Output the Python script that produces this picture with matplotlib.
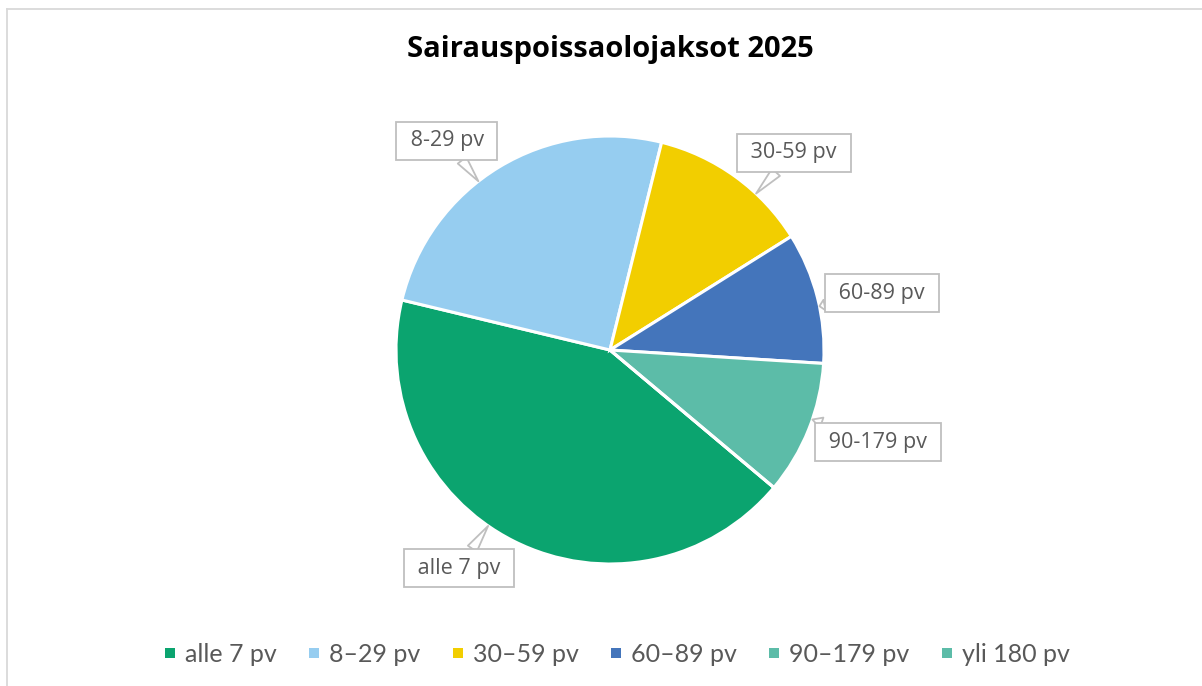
import matplotlib
matplotlib.use("Agg")
import matplotlib.pyplot as plt
import numpy as np
from matplotlib.lines import Line2D

title = "Sairauspoissaolojaksot 2025"
categories = ["alle 7 pv", "8-29 pv", "30-59 pv", "60-89 pv", "90-179 pv", "yli 180 pv"]
legend_labels = ["alle 7 pv", "8\u201329 pv", "30\u201359 pv", "60\u201389 pv", "90\u2013179 pv", "yli 180 pv"]
values = [42.6, 25.1, 12.2, 9.9, 10.1, 0.0]
colors = ["#0BA46F", "#96CDF0", "#F2CE00", "#4475BB", "#5CBCA8", "#5CBCA8"]
# label box centres (data units, pie radius = 1) for labelled slices
label_pos = {
    "alle 7 pv": (-0.706, -1.019),
    "8-29 pv": (-0.762, 0.977),
    "30-59 pv": (0.860, 0.921),
    "60-89 pv": (1.271, 0.266),
    "90-179 pv": (1.252, -0.430),
}

W, H = 1202, 686
fig = plt.figure(figsize=(W / 100, H / 100), dpi=100)
fig.patch.set_facecolor("white")

# chart border (top and left visible)
fig.add_artist(Line2D([7 / W, 1.0], [1 - 9 / H, 1 - 9 / H], transform=fig.transFigure,
                      color="#D9D9D9", lw=1.3))
fig.add_artist(Line2D([7 / W, 7 / W], [0, 1 - 9 / H], transform=fig.transFigure,
                      color="#D9D9D9", lw=1.3))

cx, cy, r = 610, H - 350, 214
ax = fig.add_axes([(cx - r) / W, (cy - r) / H, 2 * r / W, 2 * r / H])
wedges, _ = ax.pie(values, colors=colors, startangle=-40, counterclock=False, radius=1,
                   wedgeprops=dict(edgecolor="white", linewidth=2.2))
ax.set_xlim(-1, 1)
ax.set_ylim(-1, 1)
ax.set_aspect("equal")
ax.axis("off")

for w, cat in zip(wedges, categories):
    if cat not in label_pos:
        continue
    bx, by = label_pos[cat]
    ang = np.arctan2(by, bx)
    tip = (np.cos(ang), np.sin(ang))
    ax.annotate(" " + cat + " ", xy=tip, xytext=(bx, by), ha="center", va="center",
                fontsize=15.5, color="#595959", family="Open Sans",
                bbox=dict(boxstyle="square,pad=0.38", fc="white", ec="#BFBFBF", lw=1.3),
                arrowprops=dict(arrowstyle="wedge,tail_width=0.5,shrink_factor=0.5",
                                fc="white", ec="#BFBFBF", lw=1.3, shrinkA=0, shrinkB=0),
                annotation_clip=False, zorder=5)

fig.text(610 / W, 1 - 49 / H, title, ha="center", va="center", fontsize=21,
         fontweight="bold", family="Open Sans", color="#000000")

handles = [Line2D([], [], marker="s", linestyle="none", markersize=7, color=c, markeredgewidth=0)
           for c in colors]
leg = fig.legend(handles, legend_labels, loc="center", bbox_to_anchor=(616 / W, 1 - 654 / H),
                 ncol=6, frameon=False, handlelength=0.6, handletextpad=0.3, columnspacing=1.2,
                 prop=dict(family="Lato", size=18))
for t in leg.get_texts():
    t.set_color("#595959")

fig.savefig("out.png", dpi=100, facecolor="white")
